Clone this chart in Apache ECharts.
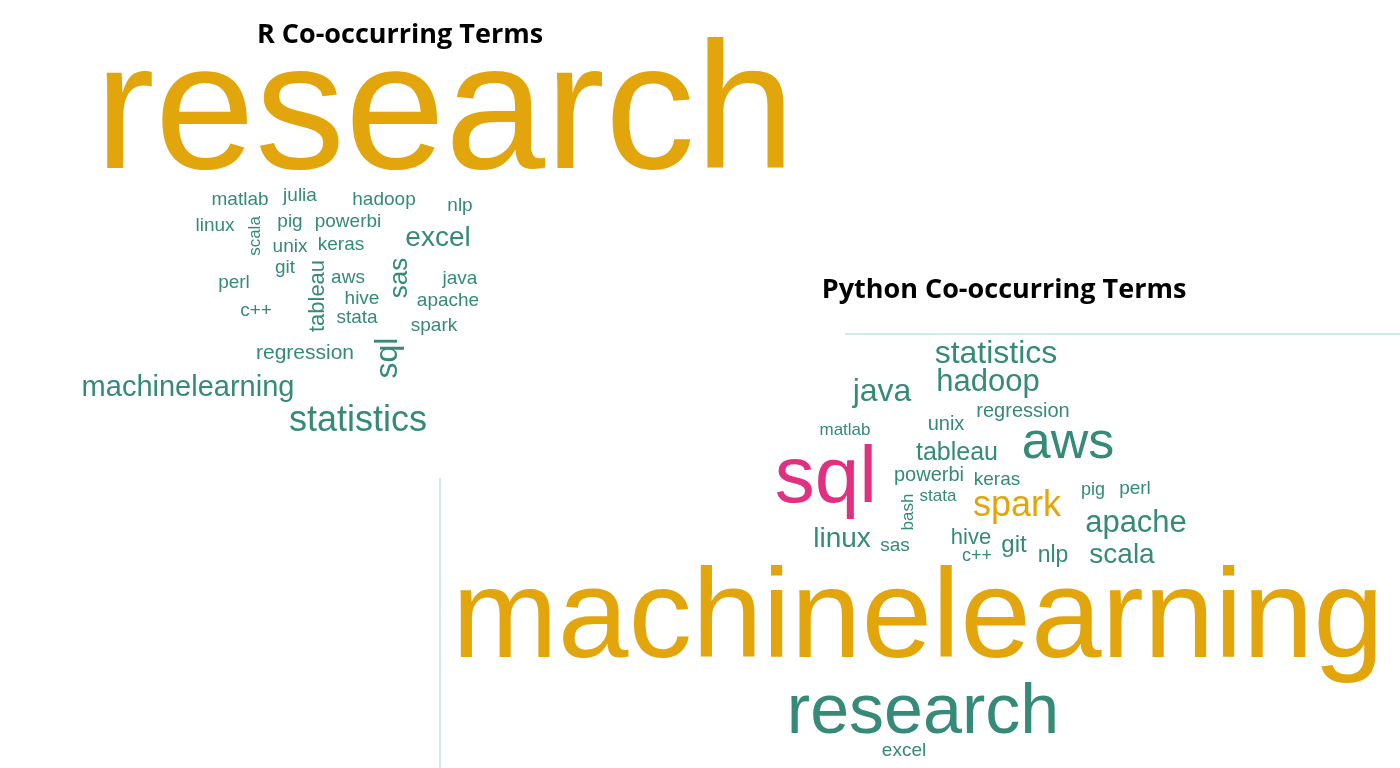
<!DOCTYPE html>
<html>
<head>
<meta charset="utf-8">
<script src="https://cdn.jsdelivr.net/npm/echarts@6/dist/echarts.min.js"></script>
<style>html,body{margin:0;padding:0;background:#fff}#chart{width:1400px;height:768px}</style>
</head>
<body>
<div id="chart"></div>
<script>
var TEAL = '#358a78', GOLD = '#e2a60c', PINK = '#e0307f';

// word, x, y, fontSize, rotate, color
var rWords = [
  ['research', 445, 118, 180, 0, GOLD],
  ['matlab', 240, 200, 19, 0, TEAL],
  ['julia', 300, 196, 19, 0, TEAL],
  ['hadoop', 384, 200, 19, 0, TEAL],
  ['nlp', 460, 206, 19, 0, TEAL],
  ['linux', 215, 226, 19, 0, TEAL],
  ['pig', 290, 222, 19, 0, TEAL],
  ['powerbi', 348, 222, 19, 0, TEAL],
  ['scala', 255, 236, 17, 90, TEAL],
  ['unix', 290, 247, 19, 0, TEAL],
  ['keras', 341, 245, 19, 0, TEAL],
  ['excel', 438, 238, 28, 0, TEAL],
  ['git', 285, 268, 19, 0, TEAL],
  ['tableau', 318, 296, 22, 90, TEAL],
  ['aws', 348, 278, 19, 0, TEAL],
  ['sas', 400, 278, 26, 90, TEAL],
  ['perl', 234, 283, 19, 0, TEAL],
  ['java', 460, 279, 19, 0, TEAL],
  ['hive', 362, 299, 19, 0, TEAL],
  ['apache', 448, 301, 19, 0, TEAL],
  ['c++', 256, 311, 19, 0, TEAL],
  ['stata', 357, 318, 19, 0, TEAL],
  ['spark', 434, 326, 19, 0, TEAL],
  ['regression', 305, 353, 21, 0, TEAL],
  ['sql', 388, 358, 32, 90, TEAL],
  ['machinelearning', 188, 388, 29, 0, TEAL],
  ['statistics', 358, 421, 36, 0, TEAL]
];

var pyWords = [
  ['statistics', 996, 354, 32, 0, TEAL],
  ['java', 882, 392, 32, 0, TEAL],
  ['hadoop', 988, 382, 31, 0, TEAL],
  ['unix', 946, 424, 20, 0, TEAL],
  ['regression', 1023, 411, 20, 0, TEAL],
  ['matlab', 845, 430, 17, 0, TEAL],
  ['tableau', 957, 453, 25, 0, TEAL],
  ['aws', 1068, 444, 52, 0, TEAL],
  ['sql', 826, 480, 80, 0, PINK],
  ['powerbi', 929, 475, 20, 0, TEAL],
  ['keras', 997, 480, 19, 0, TEAL],
  ['bash', 908, 512, 17, 90, TEAL],
  ['stata', 938, 496, 17, 0, TEAL],
  ['spark', 1017, 506, 36, 0, GOLD],
  ['pig', 1093, 490, 18, 0, TEAL],
  ['perl', 1135, 489, 19, 0, TEAL],
  ['apache', 1136, 523, 31, 0, TEAL],
  ['linux', 842, 539, 28, 0, TEAL],
  ['sas', 895, 546, 19, 0, TEAL],
  ['hive', 971, 538, 22, 0, TEAL],
  ['git', 1014, 545, 24, 0, TEAL],
  ['c++', 977, 556, 18, 0, TEAL],
  ['nlp', 1053, 556, 23, 0, TEAL],
  ['scala', 1122, 555, 28, 0, TEAL],
  ['machinelearning', 918, 622, 127, 0, GOLD],
  ['research', 923, 714, 70, 0, TEAL],
  ['excel', 904, 751, 19, 0, TEAL]
];

var titles = [
  ['R Co-occurring Terms', 400, 35],
  ['Python Co-occurring Terms', 1004, 290]
];

function toData(words) {
  return words.map(function(w) {
    return {
      name: w[0],
      value: [w[1], w[2]],
      label: { fontSize: w[3], rotate: w[4], color: w[5] }
    };
  });
}

var chart = echarts.init(document.getElementById('chart'));
chart.setOption({
  backgroundColor: '#fff',
  animation: false,
  grid: { left: 0, right: 0, top: 0, bottom: 0 },
  xAxis: { type: 'value', min: 0, max: 1400, show: false },
  yAxis: { type: 'value', min: 0, max: 768, inverse: true, show: false },
  graphic: [
    { type: 'line', shape: { x1: 845, y1: 334, x2: 1400, y2: 334 }, style: { stroke: '#a0d8d0', lineWidth: 1 } },
    { type: 'line', shape: { x1: 440, y1: 478, x2: 440, y2: 768 }, style: { stroke: '#a0d8d0', lineWidth: 1 } }
  ],
  series: [
    {
      type: 'scatter', symbolSize: 0, itemStyle: { opacity: 1 },
      data: toData(rWords.concat(pyWords)),
      label: { show: true, position: 'inside', formatter: '{b}', opacity: 1, fontFamily: 'Liberation Sans, Arial, sans-serif' }
    },
    {
      type: 'scatter', symbolSize: 0, itemStyle: { opacity: 1 },
      data: titles.map(function(t) { return { name: t[0], value: [t[1], t[2]] }; }),
      label: { show: true, position: 'inside', formatter: '{b}', color: '#000', opacity: 1, fontSize: 27, fontWeight: 'bold', fontFamily: 'Open Sans, sans-serif' }
    }
  ]
});
</script>
</body>
</html>
